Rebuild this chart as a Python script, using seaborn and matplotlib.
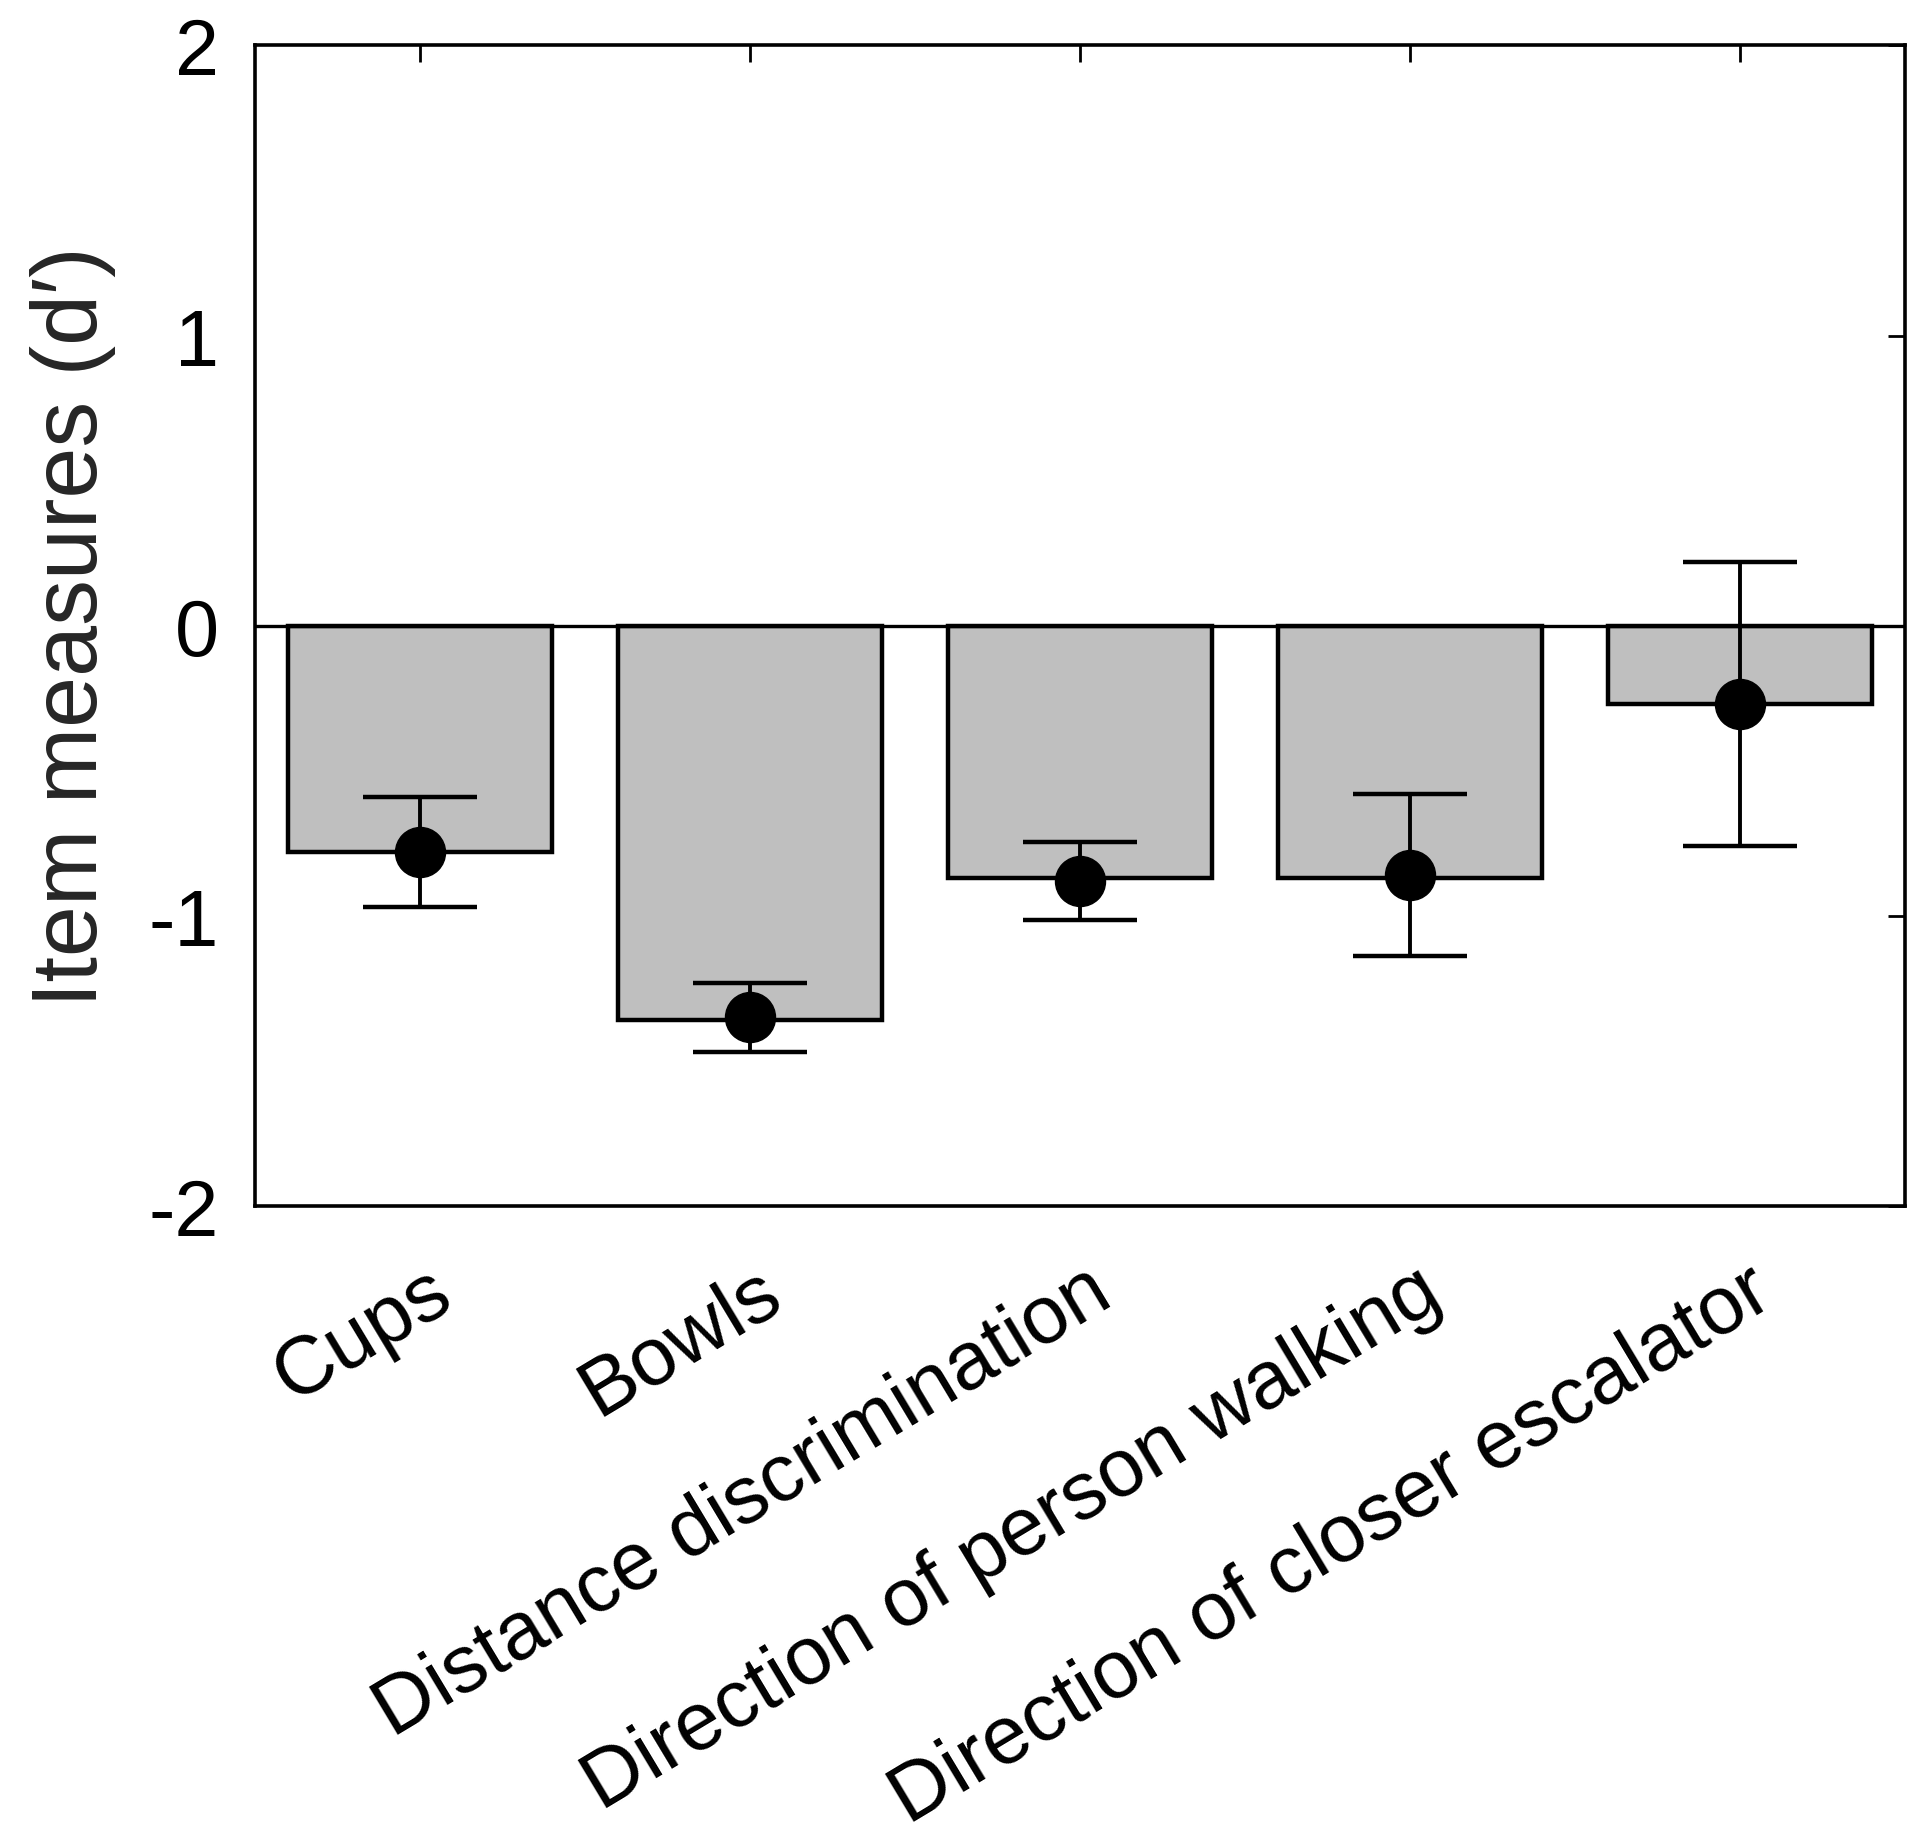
import numpy as np
import pandas as pd
import matplotlib

matplotlib.use("Agg")
import matplotlib.pyplot as plt
from matplotlib import transforms
import seaborn as sns

# values
items = [
    "Cups",
    "Bowls",
    "Distance discrimination",
    "Direction of person walking",
    "Direction of closer escalator",
]
bar_values = [-0.78, -1.36, -0.87, -0.87, -0.27]
point_values = [-0.78, -1.35, -0.88, -0.86, -0.27]
point_errors = [0.19, 0.12, 0.135, 0.28, 0.49]
y_ticks = [-2, -1, 0, 1, 2]


def main():
    sns.set_style("white")
    plt.rcParams["font.family"] = ["Liberation Sans", "DejaVu Sans"]
    plt.rcParams["axes.unicode_minus"] = False

    df = pd.DataFrame({"item": items, "measure": bar_values})

    fig = plt.figure(figsize=(19.2, 18.49), dpi=100)
    ax = fig.add_axes([0.1328, 0.3472, 0.8594, 0.6277])

    sns.barplot(
        data=df,
        x="item",
        y="measure",
        color="#bfbfbf",
        saturation=1,
        edgecolor="black",
        linewidth=3.2,
        width=0.8,
        ax=ax,
    )
    ax.axhline(0, color="black", lw=2.4, zorder=1)

    ax.errorbar(
        np.arange(len(items)),
        point_values,
        yerr=point_errors,
        fmt="o",
        color="black",
        ms=36,
        elinewidth=2.8,
        capsize=41,
        capthick=3.2,
        zorder=5,
    )

    ax.set_xlim(-0.5, len(items) - 0.5)
    ax.set_ylim(-2, 2)
    ax.set_yticks(y_ticks)
    ax.set_yticklabels([str(t) for t in y_ticks])
    ax.set_xlabel("")
    ax.set_ylabel("Item measures (d\u2032)", fontsize=66)
    ax.yaxis.set_label_coords(-0.084, 0.5)

    for side in ["left", "right", "top", "bottom"]:
        ax.spines[side].set_visible(True)
        ax.spines[side].set_linewidth(2.6)
        ax.spines[side].set_color("black")

    ax.tick_params(
        axis="both", direction="in", length=12, width=2,
        top=True, right=True, labelsize=57, colors="black",
    )
    ax.tick_params(axis="y", pad=26)
    ax.tick_params(axis="x", pad=57, labelsize=59)

    offset = transforms.ScaledTranslation(25 / 100, 0, fig.dpi_scale_trans)
    for lab in ax.get_xticklabels():
        lab.set_rotation(31)
        lab.set_ha("right")
        lab.set_va("center")
        lab.set_rotation_mode("anchor")
        lab.set_transform(lab.get_transform() + offset)

    fig.savefig("out.png", dpi=100)
    plt.close(fig)


if __name__ == "__main__":
    main()
